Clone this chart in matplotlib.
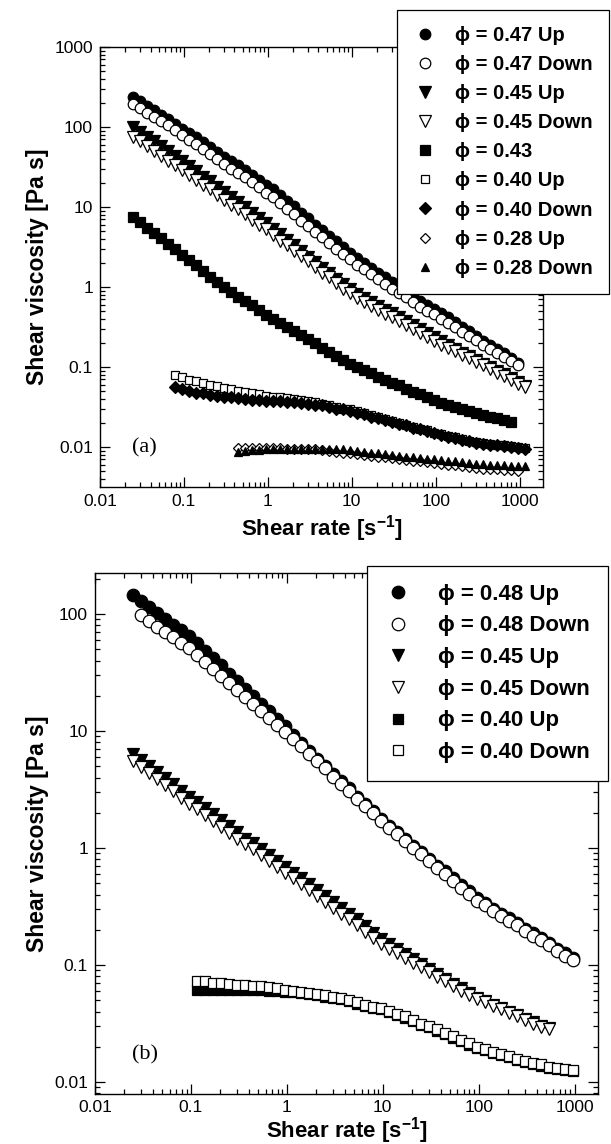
import numpy as np
import matplotlib
matplotlib.use("Agg")
import matplotlib.pyplot as plt

plt.rcParams['font.family'] = ['Liberation Sans', 'DejaVu Sans']
plt.rcParams['mathtext.fontset'] = 'custom'
plt.rcParams['mathtext.rm'] = 'Liberation Sans:bold'
plt.rcParams['mathtext.bf'] = 'Liberation Sans:bold'
plt.rcParams['mathtext.default'] = 'bf'

# ---------------- data ----------------
# shear-rate grid (s^-1) shared by the measurements
rate = [0.025, 0.0303, 0.0367, 0.0445, 0.0539, 0.0653, 0.0791, 0.0958, 0.116, 0.141,
        0.170, 0.206, 0.250, 0.303, 0.367, 0.445, 0.539, 0.653, 0.791, 0.958,
        1.16, 1.41, 1.70, 2.06, 2.50, 3.03, 3.67, 4.45, 5.39, 6.53,
        7.91, 9.58, 11.6, 14.1, 17.0, 20.6, 25.0, 30.3, 36.7, 44.5,
        53.9, 65.3, 79.1, 95.8, 116, 141, 170, 206, 250, 303,
        367, 445, 539, 653, 791, 958, 1160]

# panel (a): log10 of shear viscosity [Pa s]; first shear rate of each series
a_047_up_start = 0.025
a_047_up = [2.37, 2.32, 2.26, 2.21, 2.15, 2.10, 2.04, 1.98, 1.92, 1.87, 1.81, 1.75, 1.69, 1.63,
            1.57, 1.52, 1.46, 1.40, 1.34, 1.28, 1.22, 1.15, 1.08, 1.01, 0.93, 0.86, 0.78, 0.71,
            0.64, 0.57, 0.50, 0.43, 0.36, 0.30, 0.24, 0.18, 0.12, 0.06, 0.00, -0.05, -0.11, -0.17,
            -0.22, -0.27, -0.33, -0.38, -0.44, -0.50, -0.55, -0.61, -0.67, -0.72, -0.78, -0.83,
            -0.89, -0.95]
a_047_down_start = 0.025
a_047_down = [2.29, 2.24, 2.18, 2.13, 2.07, 2.02, 1.96, 1.90, 1.84, 1.79, 1.73, 1.66, 1.60, 1.54,
              1.48, 1.43, 1.37, 1.31, 1.25, 1.18, 1.12, 1.05, 0.98, 0.91, 0.83, 0.76, 0.69, 0.62,
              0.55, 0.48, 0.41, 0.35, 0.28, 0.22, 0.16, 0.10, 0.04, -0.02, -0.08, -0.13, -0.19,
              -0.25, -0.30, -0.34, -0.40, -0.45, -0.50, -0.56, -0.61, -0.66, -0.72, -0.77, -0.82,
              -0.87, -0.92, -0.98]
a_045_up_start = 0.025
a_045_up = [2.00, 1.94, 1.88, 1.82, 1.76, 1.70, 1.64, 1.57, 1.51, 1.45, 1.38, 1.32, 1.25, 1.19,
            1.12, 1.06, 1.00, 0.93, 0.86, 0.80, 0.73, 0.66, 0.59, 0.52, 0.45, 0.38, 0.31, 0.24,
            0.17, 0.10, 0.04, -0.03, -0.09, -0.14, -0.19, -0.24, -0.29, -0.33, -0.38, -0.43,
            -0.48, -0.53, -0.58, -0.63, -0.68, -0.72, -0.77, -0.82, -0.86, -0.91, -0.96, -1.00,
            -1.05, -1.09, -1.14, -1.19, -1.24]
a_045_down_start = 0.025
a_045_down = [1.88, 1.82, 1.76, 1.70, 1.64, 1.58, 1.52, 1.46, 1.40, 1.34, 1.28, 1.22, 1.15, 1.09,
              1.03, 0.97, 0.91, 0.84, 0.78, 0.72, 0.65, 0.58, 0.52, 0.45, 0.39, 0.32, 0.25, 0.18,
              0.12, 0.05, -0.02, -0.08, -0.14, -0.19, -0.24, -0.29, -0.34, -0.38, -0.43, -0.47,
              -0.52, -0.57, -0.62, -0.67, -0.72, -0.76, -0.80, -0.85, -0.89, -0.94, -0.98, -1.03,
              -1.07, -1.11, -1.16, -1.21, -1.25]
a_043_start = 0.025
a_043 = [0.88, 0.81, 0.74, 0.68, 0.61, 0.54, 0.47, 0.40, 0.34, 0.27, 0.20, 0.13, 0.06, 0.00,
         -0.06, -0.12, -0.17, -0.23, -0.29, -0.35, -0.40, -0.45, -0.50, -0.55, -0.60, -0.65,
         -0.70, -0.76, -0.81, -0.86, -0.91, -0.96, -1.00, -1.04, -1.08, -1.12, -1.16, -1.20,
         -1.23, -1.27, -1.31, -1.34, -1.38, -1.41, -1.45, -1.47, -1.50, -1.52, -1.55, -1.57,
         -1.60, -1.62, -1.64, -1.66, -1.69]
a_040_up_start = 0.0791
a_040_up = [-1.10, -1.13, -1.16, -1.18, -1.20, -1.22, -1.24, -1.26, -1.28, -1.30, -1.31, -1.33,
            -1.34, -1.36, -1.37, -1.38, -1.39, -1.40, -1.41, -1.43, -1.44, -1.46, -1.48, -1.50,
            -1.52, -1.53, -1.55, -1.58, -1.60, -1.63, -1.65, -1.68, -1.70, -1.72, -1.75, -1.77,
            -1.79, -1.82, -1.84, -1.86, -1.88, -1.90, -1.92, -1.94, -1.95, -1.96, -1.97, -1.98,
            -1.99, -2.00, -2.01]
a_040_down_start = 0.0791
a_040_down = [-1.25, -1.28, -1.30, -1.32, -1.33, -1.35, -1.36, -1.37, -1.38, -1.39, -1.40, -1.41,
              -1.41, -1.42, -1.42, -1.43, -1.44, -1.44, -1.45, -1.46, -1.47, -1.48, -1.50, -1.52,
              -1.53, -1.55, -1.57, -1.59, -1.62, -1.64, -1.66, -1.69, -1.71, -1.73, -1.76, -1.78,
              -1.80, -1.83, -1.85, -1.87, -1.89, -1.91, -1.93, -1.95, -1.96, -1.97, -1.98, -1.99,
              -2.00, -2.01, -2.02]
a_028_up_start = 0.445
a_028_up = [-2.01, -2.01, -2.01, -2.01, -2.01, -2.01, -2.01, -2.02, -2.02, -2.02, -2.03, -2.03,
            -2.04, -2.05, -2.06, -2.07, -2.08, -2.09, -2.10, -2.11, -2.12, -2.13, -2.14, -2.15,
            -2.16, -2.17, -2.18, -2.19, -2.20, -2.21, -2.22, -2.23, -2.24, -2.25, -2.26, -2.27,
            -2.27, -2.28, -2.29, -2.29, -2.30]
a_028_down_start = 0.445
a_028_down = [-2.06, -2.05, -2.04, -2.04, -2.03, -2.03, -2.03, -2.02, -2.02, -2.02, -2.02, -2.02,
              -2.02, -2.02, -2.03, -2.03, -2.04, -2.05, -2.06, -2.07, -2.08, -2.09, -2.10, -2.11,
              -2.12, -2.13, -2.14, -2.15, -2.15, -2.16, -2.17, -2.18, -2.19, -2.20, -2.21, -2.21,
              -2.22, -2.23, -2.23, -2.24, -2.24, -2.24]

# panel (b)
b_048_up_start = 0.025
b_048_up = [2.16, 2.11, 2.06, 2.01, 1.96, 1.91, 1.86, 1.81, 1.75, 1.68, 1.62, 1.56, 1.49, 1.43,
            1.36, 1.30, 1.23, 1.17, 1.10, 1.04, 0.97, 0.90, 0.83, 0.76, 0.70, 0.63, 0.57, 0.51,
            0.44, 0.38, 0.32, 0.25, 0.19, 0.14, 0.08, 0.02, -0.03, -0.09, -0.15, -0.20, -0.26,
            -0.32, -0.37, -0.43, -0.47, -0.52, -0.56, -0.60, -0.64, -0.69, -0.73, -0.77, -0.81,
            -0.86, -0.90, -0.94]
b_048_down_start = 0.0303
b_048_down = [1.99, 1.94, 1.89, 1.85, 1.80, 1.75, 1.71, 1.65, 1.59, 1.53, 1.47, 1.41, 1.35, 1.29,
              1.23, 1.17, 1.11, 1.05, 0.99, 0.93, 0.87, 0.80, 0.74, 0.68, 0.61, 0.55, 0.49, 0.42,
              0.36, 0.30, 0.23, 0.17, 0.12, 0.06, 0.00, -0.05, -0.11, -0.17, -0.22, -0.28, -0.34,
              -0.39, -0.45, -0.49, -0.54, -0.58, -0.62, -0.66, -0.71, -0.75, -0.79, -0.83, -0.88,
              -0.92, -0.96]
b_045_up_start = 0.025
b_045_up = [0.80, 0.75, 0.70, 0.65, 0.60, 0.55, 0.49, 0.44, 0.39, 0.34, 0.29, 0.24, 0.19, 0.14,
            0.08, 0.04, -0.01, -0.06, -0.11, -0.16, -0.21, -0.26, -0.31, -0.36, -0.41, -0.46,
            -0.51, -0.56, -0.61, -0.67, -0.73, -0.78, -0.82, -0.86, -0.91, -0.95, -0.99, -1.03,
            -1.08, -1.12, -1.16, -1.20, -1.24, -1.28, -1.31, -1.34, -1.37, -1.40, -1.43, -1.46,
            -1.49, -1.52, -1.54]
b_045_down_start = 0.025
b_045_down = [0.74, 0.69, 0.64, 0.59, 0.54, 0.49, 0.43, 0.38, 0.33, 0.28, 0.23, 0.18, 0.13, 0.08,
              0.03, -0.01, -0.06, -0.11, -0.16, -0.21, -0.26, -0.31, -0.36, -0.41, -0.46, -0.51,
              -0.56, -0.61, -0.66, -0.72, -0.77, -0.82, -0.86, -0.90, -0.94, -0.98, -1.02, -1.06,
              -1.10, -1.14, -1.18, -1.22, -1.26, -1.29, -1.32, -1.35, -1.38, -1.41, -1.44, -1.47,
              -1.50, -1.53, -1.55]
b_040_up_start = 0.116
b_040_up = [-1.21, -1.21, -1.21, -1.21, -1.21, -1.21, -1.21, -1.21, -1.21, -1.22, -1.22, -1.23,
            -1.23, -1.24, -1.25, -1.26, -1.27, -1.28, -1.29, -1.31, -1.33, -1.35, -1.37, -1.38,
            -1.40, -1.43, -1.45, -1.48, -1.51, -1.53, -1.56, -1.59, -1.62, -1.65, -1.68, -1.71,
            -1.73, -1.75, -1.77, -1.79, -1.81, -1.83, -1.85, -1.86, -1.88, -1.89, -1.90, -1.91]
b_040_down_start = 0.116
b_040_down = [-1.14, -1.14, -1.15, -1.15, -1.16, -1.17, -1.17, -1.18, -1.18, -1.19, -1.20, -1.21,
              -1.22, -1.23, -1.24, -1.25, -1.26, -1.27, -1.28, -1.30, -1.32, -1.34, -1.36, -1.37,
              -1.39, -1.42, -1.44, -1.47, -1.50, -1.52, -1.55, -1.58, -1.61, -1.64, -1.67, -1.70,
              -1.72, -1.74, -1.76, -1.78, -1.80, -1.82, -1.84, -1.85, -1.87, -1.88, -1.89, -1.90]

labels_a = ["ϕ = 0.47 Up", "ϕ = 0.47 Down", "ϕ = 0.45 Up", "ϕ = 0.45 Down", "ϕ = 0.43",
            "ϕ = 0.40 Up", "ϕ = 0.40 Down", "ϕ = 0.28 Up", "ϕ = 0.28 Down"]
labels_b = ["ϕ = 0.48 Up", "ϕ = 0.48 Down", "ϕ = 0.45 Up", "ϕ = 0.45 Down",
            "ϕ = 0.40 Up", "ϕ = 0.40 Down"]
xticks = [0.01, 0.1, 1, 10, 100, 1000]
xtick_labels = ["0.01", "0.1", "1", "10", "100", "1000"]
yticks_a = [0.01, 0.1, 1, 10, 100, 1000]
ytick_labels_a = ["0.01", "0.1", "1", "10", "100", "1000"]
yticks_b = [0.01, 0.1, 1, 10, 100]
ytick_labels_b = ["0.01", "0.1", "1", "10", "100"]

series_a = [(a_047_up_start, a_047_up), (a_047_down_start, a_047_down),
            (a_045_up_start, a_045_up), (a_045_down_start, a_045_down),
            (a_043_start, a_043), (a_040_up_start, a_040_up), (a_040_down_start, a_040_down),
            (a_028_up_start, a_028_up), (a_028_down_start, a_028_down)]
series_b = [(b_048_up_start, b_048_up), (b_048_down_start, b_048_down),
            (b_045_up_start, b_045_up), (b_045_down_start, b_045_down),
            (b_040_up_start, b_040_up), (b_040_down_start, b_040_down)]

# ---------------- styles ----------------
style_a = [('o', 'k', 7.6), ('o', 'w', 7.6), ('v', 'k', 8.0), ('v', 'w', 8.0), ('s', 'k', 7.0),
           ('s', 'w', 6.4), ('D', 'k', 5.8), ('D', 'w', 5.2), ('^', 'k', 6.2)]
style_b = [('o', 'k', 9.0), ('o', 'w', 9.0), ('v', 'k', 8.8), ('v', 'w', 8.8),
           ('s', 'k', 7.6), ('s', 'w', 7.6)]


def xy(start, vals):
    i0 = int(np.argmin(np.abs(np.log10(rate) - np.log10(start))))
    x = np.array(rate[i0:i0 + len(vals)])
    y = 10 ** np.array(vals[:len(x)])
    return x, y


fig = plt.figure(figsize=(6.11, 11.44), dpi=100)
ax_a = fig.add_axes([100 / 611, 1 - 487 / 1144, 443 / 611, 440 / 1144])
ax_b = fig.add_axes([95 / 611, 1 - 1094 / 1144, 503 / 611, 521 / 1144])


def draw(ax, series, styles, labels, xlabelpad):
    handles = []
    for (start, vals), (mk, fc, ms), lab in zip(series, styles, labels):
        x, y = xy(start, vals)
        h, = ax.plot(x, y, linestyle='none', marker=mk, ms=ms, mfc=fc, mec='k',
                     mew=0.9, label=lab)
        handles.append(h)
    ax.set_xscale('log')
    ax.set_yscale('log')
    ax.tick_params(which='both', direction='in', top=True, right=True, width=0.9,
                   labelsize=12.5, pad=5)
    ax.tick_params(which='major', length=7)
    ax.tick_params(which='minor', length=3.5)
    for s in ax.spines.values():
        s.set_linewidth(1.0)
    ax.set_xticks(xticks)
    ax.set_xticklabels(xtick_labels)
    ax.set_xlabel("Shear rate [s$^{-1}$]", fontsize=16, fontweight='bold',
                  labelpad=xlabelpad)
    ax.set_ylabel("Shear viscosity [Pa s]", fontsize=16.5, fontweight='bold', labelpad=4)
    return handles


ha = draw(ax_a, series_a, style_a, labels_a, 3)
ax_a.set_xlim(0.01, 1900)
ax_a.set_ylim(0.00316, 1000)
ax_a.set_yticks(yticks_a)
ax_a.set_yticklabels(ytick_labels_a)
ax_a.text(0.1, 0.09, "(a)", transform=ax_a.transAxes, fontsize=16,
          family=['Liberation Serif', 'DejaVu Serif'], ha='center', va='center')

hb = draw(ax_b, series_b, style_b, labels_b, 0.5)
ax_b.set_xlim(0.01, 1750)
ax_b.set_ylim(0.0079, 224)
ax_b.set_yticks(yticks_b)
ax_b.set_yticklabels(ytick_labels_b)
ax_b.tick_params(axis='x', which='both', pad=4)
ax_b.text(0.1, 0.075, "(b)", transform=ax_b.transAxes, fontsize=16,
          family=['Liberation Serif', 'DejaVu Serif'], ha='center', va='center')

leg_a = fig.legend(handles=ha, labels=labels_a, loc='upper right',
                   bbox_to_anchor=(609 / 611, 1 - 10 / 1144), frameon=True, fancybox=False,
                   edgecolor='k', framealpha=1, prop={'weight': 'bold', 'size': 14.5},
                   labelspacing=0.5, handlelength=1.2, handletextpad=0.9, borderpad=0.8,
                   borderaxespad=0)
leg_a.get_frame().set_linewidth(0.9)
leg_b = fig.legend(handles=hb, labels=labels_b, loc='upper right',
                   bbox_to_anchor=(608 / 611, 1 - 566 / 1144), frameon=True, fancybox=False,
                   edgecolor='k', framealpha=1, prop={'weight': 'bold', 'size': 16.0},
                   labelspacing=0.48, handlelength=1.2, handletextpad=1.2, borderpad=0.8,
                   borderaxespad=0)
leg_b.get_frame().set_linewidth(0.9)

fig.savefig("out.png", dpi=100)
